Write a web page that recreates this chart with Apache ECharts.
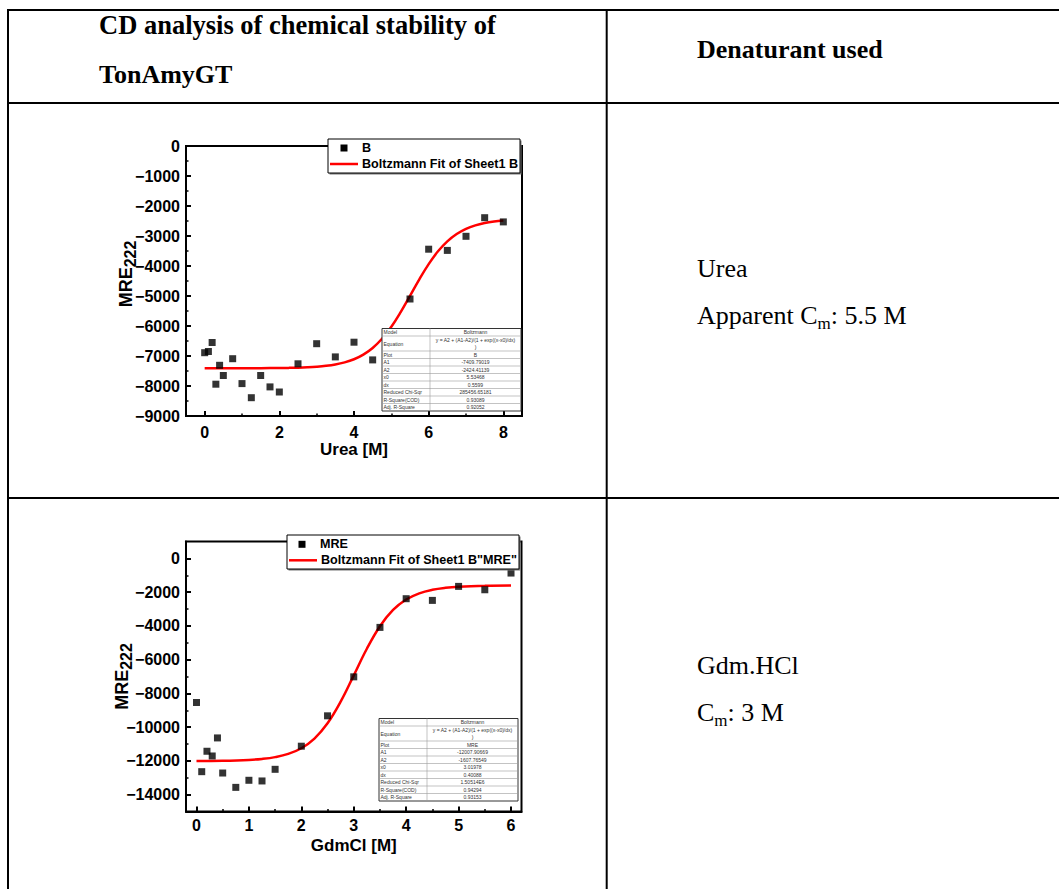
<!DOCTYPE html>
<html>
<head>
<meta charset="utf-8">
<title>CD analysis of chemical stability of TonAmyGT</title>
<script src="https://cdn.jsdelivr.net/npm/echarts@6/dist/echarts.min.js"></script>
<style>
  html, body { margin: 0; padding: 0; background: #fff; }
  #page { position: relative; width: 1059px; height: 889px; overflow: hidden; }
  #sheet { position: absolute; left: 0; top: 0; }
  #chart { position: absolute; left: 0; top: 0; width: 1059px; height: 889px; }
</style>
</head>
<body>
<div id="page">
  <svg id="sheet" width="1059" height="889" xmlns="http://www.w3.org/2000/svg"></svg>
  <div id="chart"></div>
</div>
<script>
// ---- Urea titration (MRE at 222 nm) ----
const ureaConc = [0, 0.1, 0.2, 0.3, 0.4, 0.5, 0.75, 1, 1.25, 1.5, 1.75, 2, 2.5, 3, 3.5, 4, 4.5, 5.5, 6, 6.5, 7, 7.5, 8];
const ureaMRE  = [-6890, -6850, -6550, -7940, -7310, -7650, -7090, -7920, -8390, -7650, -8030, -8200,
                  -7260, -6590, -7030, -6540, -7130, -5100, -3440, -3480, -3010, -2390, -2530];
// Boltzmann fit curve, urea
const ureaFitConc = [0, 0.5, 1, 1.5, 2, 2.25, 2.5, 2.75, 3, 3.25, 3.5, 3.75, 4, 4.25, 4.5, 4.75, 5, 5.25,
                     5.5, 5.75, 6, 6.25, 6.5, 6.75, 7, 7.25, 7.5, 7.75, 8];
const ureaFitMRE  = [-7410, -7410, -7410, -7406, -7401, -7396, -7388, -7375, -7356, -7327, -7282, -7212,
                     -7108, -6953, -6731, -6425, -6025, -5537, -4994, -4443, -3937, -3511, -3179, -2935,
                     -2763, -2647, -2569, -2518, -2485];
const ureaXTicks = [0, 2, 4, 6, 8];
const ureaXMinor = [1, 3, 5, 7];

// ---- GdmCl titration (MRE at 222 nm) ----
const gdmConc = [0, 0.1, 0.2, 0.3, 0.4, 0.5, 0.75, 1, 1.25, 1.5, 2, 2.5, 3, 3.5, 4, 4.5, 5, 5.5, 6];
const gdmMRE  = [-8540, -12640, -11430, -11710, -10640, -12720, -13570, -13150, -13190, -12500,
                 -11130, -9330, -7020, -4090, -2390, -2490, -1660, -1860, -870];
// Boltzmann fit curve, GdmCl
const gdmFitConc = [0, 0.5, 1, 1.25, 1.5, 1.75, 2, 2.25, 2.5, 2.75, 3, 3.25, 3.5, 3.75, 4, 4.25, 4.5,
                    4.75, 5, 5.5, 6];
const gdmFitMRE  = [-12002, -11988, -11941, -11884, -11778, -11588, -11250, -10679, -9775, -8494, -6936,
                    -5354, -4019, -3056, -2438, -2070, -1861, -1745, -1682, -1629, -1614];
const gdmXTicks = [0, 1, 2, 3, 4, 5, 6];
const gdmXMinor = [0.5, 1.5, 2.5, 3.5, 4.5, 5.5];
const gdmYTicks = [0, -2000, -4000, -6000, -8000, -10000, -12000, -14000];
const gdmYMinor = [-1000, -3000, -5000, -7000, -9000, -11000, -13000];

// ---- Fit report tables ----
const ureaFitReport = [
  ['Model', 'Boltzmann'],
  ['Equation', 'y = A2 + (A1-A2)/(1 + exp((x-x0)/dx)\n)'],
  ['Plot', 'B'],
  ['A1', '-7409.79019'],
  ['A2', '-2424.41139'],
  ['x0', '5.53468'],
  ['dx', '0.5599'],
  ['Reduced Chi-Sqr', '285456.65181'],
  ['R-Square(COD)', '0.93089'],
  ['Adj. R-Square', '0.92052']
];
const gdmFitReport = [
  ['Model', 'Boltzmann'],
  ['Equation', 'y = A2 + (A1-A2)/(1 + exp((x-x0)/dx)\n)'],
  ['Plot', 'MRE'],
  ['A1', '-12007.90669'],
  ['A2', '-1607.76549'],
  ['x0', '3.01978'],
  ['dx', '0.40088'],
  ['Reduced Chi-Sqr', '1.50514E6'],
  ['R-Square(COD)', '0.94294'],
  ['Adj. R-Square', '0.93153']
];

// ---- Table text ----
const headerLeft = ['CD analysis of chemical stability of', 'TonAmyGT'];
const headerRight = 'Denaturant used';
const denaturants = [
  { name: 'Urea', prefix: 'Apparent C', sub: 'm', suffix: ': 5.5 M' },
  { name: 'Gdm.HCl', prefix: 'C', sub: 'm', suffix: ': 3 M' }
];

// ---------------- page table ----------------
(function drawSheet() {
  const NS = 'http://www.w3.org/2000/svg';
  const svg = document.getElementById('sheet');
  const mk = (tag, attrs, parent) => {
    const el = document.createElementNS(NS, tag);
    for (const k in attrs) el.setAttribute(k, attrs[k]);
    (parent || svg).appendChild(el);
    return el;
  };
  const rules = mk('g', { stroke: '#000', 'stroke-width': 2 });
  [[7, 10, 1059, 10], [8, 9, 8, 889], [606.7, 10, 606.7, 889], [7, 103, 1059, 103], [7, 498, 1059, 498]]
    .forEach(([x1, y1, x2, y2]) => mk('line', { x1, y1, x2, y2 }, rules));

  const txt = mk('g', { 'font-family': "'Liberation Serif','Times New Roman',serif", 'font-size': 26, fill: '#000' });
  const t1 = mk('text', { x: 99, y: 34, 'font-weight': 'bold', 'font-size': 26.5 }, txt); t1.textContent = headerLeft[0];
  const t2 = mk('text', { x: 99, y: 83, 'font-weight': 'bold' }, txt); t2.textContent = headerLeft[1];
  const t3 = mk('text', { x: 697, y: 58, 'font-weight': 'bold' }, txt); t3.textContent = headerRight;

  const rowBase = [277, 674];
  denaturants.forEach((d, i) => {
    const a = mk('text', { x: 697, y: rowBase[i] }, txt); a.textContent = d.name;
    const b = mk('text', { x: 697, y: rowBase[i] + 47 }, txt);
    const p1 = mk('tspan', {}, b); p1.textContent = d.prefix;
    const p2 = mk('tspan', { 'font-size': 17, dy: 5 }, b); p2.textContent = d.sub;
    const p3 = mk('tspan', { dy: -5 }, b); p3.textContent = d.suffix;
  });
})();

// ---------------- charts ----------------
const FONT = '"Liberation Sans", Arial, Helvetica, sans-serif';
const pairs = (xs, ys) => xs.map((x, i) => [x, ys[i]]);
const signed = v => String(v).replace('-', '\u2212');

const labelStyle = { color: '#000', fontFamily: FONT, fontWeight: 'bold', fontSize: 16 };
const tickStyle = { color: '#000', width: 2 };
const minorStyle = { color: '#000', width: 1.5 };

function mainX(gridIndex, min, max, ticks, name, nameGap, margin) {
  return {
    type: 'value', gridIndex, min, max, position: 'bottom',
    name, nameLocation: 'middle', nameGap, nameMoveOverlap: false,
    nameTextStyle: { color: '#000', fontFamily: FONT, fontWeight: 'bold', fontSize: 17 },
    axisLine: { show: true, onZero: false, lineStyle: { color: '#000', width: 2 } },
    axisTick: { show: true, inside: true, length: 5, lineStyle: tickStyle, customValues: ticks },
    axisLabel: Object.assign({ customValues: ticks, margin, formatter: signed }, labelStyle),
    splitLine: { show: false }
  };
}
function minorX(gridIndex, min, max, ticks) {
  return {
    type: 'value', gridIndex, min, max, position: 'bottom',
    axisLine: { show: false, onZero: false },
    axisTick: { show: true, inside: true, length: 2.5, lineStyle: minorStyle, customValues: ticks },
    axisLabel: { show: false }, splitLine: { show: false }
  };
}
function yName(padding, nameGap) {
  return {
    name: '{m|MRE}{s|222}', nameLocation: 'middle', nameRotate: 90, nameGap, nameMoveOverlap: false,
    nameTextStyle: {
      color: '#000', padding,
      rich: {
        m: { fontFamily: FONT, fontWeight: 'bold', fontSize: 18, lineHeight: 18, verticalAlign: 'top' },
        s: { fontFamily: FONT, fontWeight: 'bold', fontSize: 16, lineHeight: 16, verticalAlign: 'top', padding: [5, 0, 0, 0] }
      }
    }
  };
}

function fitTable(left, top, width, splitX, rows) {
  const rowH = 7.5;
  const heights = rows.map(r => (r[1].indexOf('\n') >= 0 ? 2 * rowH : rowH));
  const total = heights.reduce((a, b) => a + b, 0);
  const els = [];
  els.push({ type: 'rect', z: 100, shape: { x: left, y: top, width, height: total },
             style: { fill: '#fff', stroke: '#333', lineWidth: 1 } });
  let y = top;
  rows.forEach((r, i) => {
    const h = heights[i];
    if (i > 0) els.push({ type: 'line', z: 101, shape: { x1: left, y1: y, x2: left + width, y2: y },
                          style: { stroke: '#9a9a9a', lineWidth: 0.6 } });
    els.push({ type: 'text', z: 102, x: left + 1.5, y: y + h / 2,
               style: { text: r[0], fontFamily: FONT, fontSize: 5, fill: '#333',
                        align: 'left', verticalAlign: 'middle', textAlign: 'left', textVerticalAlign: 'middle' } });
    els.push({ type: 'text', z: 102, x: (splitX + left + width) / 2, y: y + h / 2,
               style: { text: r[1], fontFamily: FONT, fontSize: 5, lineHeight: 6.5, fill: '#333',
                        align: 'center', verticalAlign: 'middle', textAlign: 'center', textVerticalAlign: 'middle' } });
    y += h;
  });
  els.push({ type: 'line', z: 101, shape: { x1: splitX, y1: top, x2: splitX, y2: top + total },
             style: { stroke: '#9a9a9a', lineWidth: 0.6 } });
  return els;
}

function legendBox(box, markerX, lineX1, lineX2, textX, rowY, names) {
  const els = [];
  els.push({ type: 'rect', z: 98, shape: { x: box[0] + 1.5, y: box[1] + 1.5, width: box[2], height: box[3] },
             style: { fill: '#777' } });
  els.push({ type: 'rect', z: 99, shape: { x: box[0], y: box[1], width: box[2], height: box[3] },
             style: { fill: '#fff', stroke: '#000', lineWidth: 1 } });
  els.push({ type: 'rect', z: 100, shape: { x: markerX - 3.5, y: rowY[0] - 3.5, width: 7, height: 7 },
             style: { fill: '#000' } });
  els.push({ type: 'line', z: 100, shape: { x1: lineX1, y1: rowY[1], x2: lineX2, y2: rowY[1] },
             style: { stroke: '#ff0000', lineWidth: 2.5 } });
  names.forEach((n, i) => {
    els.push({ type: 'text', z: 100, x: textX[i], y: rowY[i],
               style: { text: n, fontFamily: FONT, fontWeight: 'bold', fontSize: 12.6, fill: '#000',
                        align: 'left', verticalAlign: 'middle', textAlign: 'left', textVerticalAlign: 'middle' } });
  });
  return els;
}

const chart = echarts.init(document.getElementById('chart'), null, { renderer: 'svg' });

const option = {
  animation: false,
  grid: [
    { left: 186, top: 146, width: 336, height: 270, show: true, borderColor: '#000', borderWidth: 2, backgroundColor: 'transparent' },
    { left: 186, top: 541.5, width: 335.5, height: 270, show: true, borderColor: '#000', borderWidth: 2, backgroundColor: 'transparent' }
  ],
  xAxis: [
    mainX(0, -0.5, 8.5, ureaXTicks, 'Urea [M]', 25, 8),
    minorX(0, -0.5, 8.5, ureaXMinor),
    mainX(1, -0.2, 6.2, gdmXTicks, 'GdmCl [M]', 25, 6),
    minorX(1, -0.2, 6.2, gdmXMinor)
  ],
  yAxis: [
    Object.assign({
      type: 'value', gridIndex: 0, min: -9000, max: 0, interval: 1000, position: 'left',
      axisLine: { show: true, onZero: false, lineStyle: { color: '#000', width: 2 } },
      axisTick: { show: true, inside: true, length: 5, lineStyle: tickStyle },
      minorTick: { show: true, splitNumber: 2, length: 2.5, lineStyle: minorStyle },
      axisLabel: Object.assign({ margin: 6, formatter: signed }, labelStyle),
      splitLine: { show: false }, minorSplitLine: { show: false }
    }, yName([0, 0, 0, 14], 51)),
    Object.assign({
      type: 'value', gridIndex: 1, min: -15000, max: 1000, position: 'left',
      axisLine: { show: true, onZero: false, lineStyle: { color: '#000', width: 2 } },
      axisTick: { show: true, inside: true, length: 5, lineStyle: tickStyle, customValues: gdmYTicks },
      axisLabel: Object.assign({ margin: 6, formatter: signed, customValues: gdmYTicks }, labelStyle),
      splitLine: { show: false }
    }, yName([0, 0, 0, 0], 55)),
    {
      type: 'value', gridIndex: 1, min: -15000, max: 1000, position: 'left',
      axisLine: { show: false, onZero: false },
      axisTick: { show: true, inside: true, length: 2.5, lineStyle: minorStyle, customValues: gdmYMinor },
      axisLabel: { show: false }, splitLine: { show: false }
    }
  ],
  series: [
    { type: 'line', name: 'Boltzmann Fit of Sheet1 B', xAxisIndex: 0, yAxisIndex: 0,
      data: pairs(ureaFitConc, ureaFitMRE), symbol: 'none', showSymbol: false,
      smooth: 0.4, lineStyle: { color: '#ff0000', width: 2.5 }, z: 2 },
    { type: 'scatter', name: 'B', xAxisIndex: 0, yAxisIndex: 0,
      data: pairs(ureaConc, ureaMRE), symbol: 'rect', symbolSize: 7, itemStyle: { color: '#000' }, z: 3 },
    { type: 'line', name: 'Boltzmann Fit of Sheet1 B"MRE"', xAxisIndex: 2, yAxisIndex: 1,
      data: pairs(gdmFitConc, gdmFitMRE), symbol: 'none', showSymbol: false,
      smooth: 0.4, lineStyle: { color: '#ff0000', width: 2.5 }, z: 2 },
    { type: 'scatter', name: 'MRE', xAxisIndex: 2, yAxisIndex: 1,
      data: pairs(gdmConc, gdmMRE), symbol: 'rect', symbolSize: 7, itemStyle: { color: '#000' }, z: 3 }
  ],
  graphic: [].concat(
    legendBox([328, 139, 192, 34], 344, 330, 358, [362, 362], [148, 164], ['B', 'Boltzmann Fit of Sheet1 B']),
    legendBox([287, 535, 232, 34], 302, 289, 317, [320, 321], [544.3, 560.3], ['MRE', 'Boltzmann Fit of Sheet1 B"MRE"']),
    fitTable(382, 328.5, 139, 430, ureaFitReport),
    fitTable(379, 718.5, 139, 427, gdmFitReport)
  )
};

chart.setOption(option);
</script>
</body>
</html>
